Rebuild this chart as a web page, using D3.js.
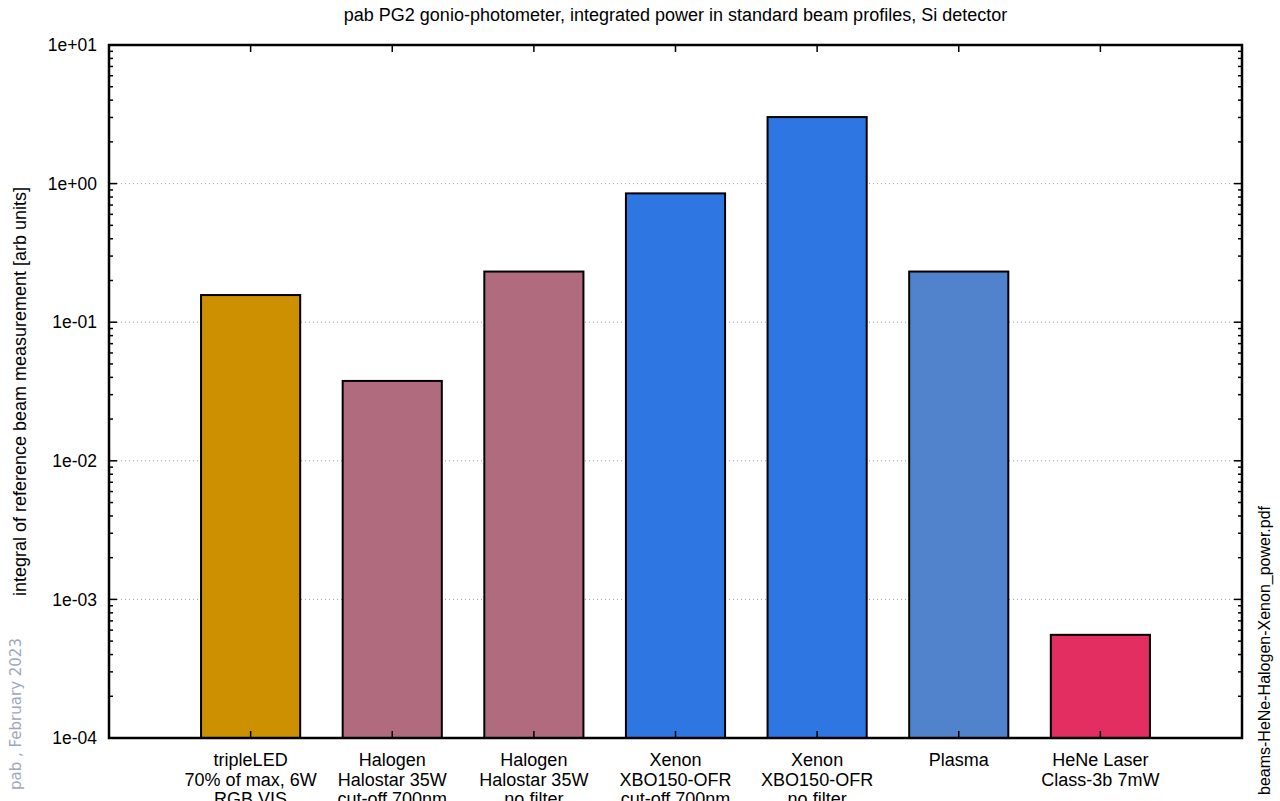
<!DOCTYPE html>
<html>
<head>
<meta charset="utf-8">
<script src="https://cdn.jsdelivr.net/npm/d3@7"></script>
<style>
  html, body { margin: 0; padding: 0; background: #fff; }
  svg { display: block; font-family: "Liberation Sans", Arial, sans-serif; }
</style>
</head>
<body>
<svg id="chart" width="1280" height="801"></svg>
<script>
// Beam sources (multi-line labels) and their integrated power
const categories = [
  ["tripleLED", "70% of max, 6W", "RGB VIS"],
  ["Halogen", "Halostar 35W", "cut-off 700nm"],
  ["Halogen", "Halostar 35W", "no filter"],
  ["Xenon", "XBO150-OFR", "cut-off 700nm"],
  ["Xenon", "XBO150-OFR", "no filter"],
  ["Plasma"],
  ["HeNe Laser", "Class-3b 7mW"]
];
const power = [0.157, 0.0377, 0.232, 0.85, 3.02, 0.232, 5.55e-4];
const barColors = ["#cc9000", "#b06b7f", "#b06b7f", "#2e77e3", "#2e77e3", "#5083cb", "#e32e62"];
const yTickValues = [1e-4, 1e-3, 1e-2, 1e-1, 1e0, 1e1];
const yTickLabels = ["1e-04", "1e-03", "1e-02", "1e-01", "1e+00", "1e+01"];

const titleText = "pab PG2 gonio-photometer, integrated power in standard beam profiles, Si detector";
const yLabelText = "integral of reference beam measurement [arb units]";
const stampText = "pab , February 2023";
const fileText = "beams-HeNe-Halogen-Xenon_power.pdf";

const svg = d3.select("#chart");
const L = 109, R = 1242, T = 45, B = 738;

const x = d3.scaleLinear().domain([0, categories.length + 1]).range([L, R]);
const y = d3.scaleLog().domain([1e-4, 1e1]).range([B, T]);
const barW = x(0.7) - x(0);

// dotted grid at each decade
svg.append("g").selectAll("line")
  .data(yTickValues.slice(1, -1))
  .join("line")
  .attr("x1", L).attr("x2", R)
  .attr("y1", d => y(d)).attr("y2", d => y(d))
  .attr("stroke", "#a0a0a0").attr("stroke-width", 1)
  .attr("stroke-dasharray", "1,3");

// bars
svg.append("g").selectAll("rect")
  .data(power)
  .join("rect")
  .attr("x", (d, i) => x(i + 1) - barW / 2)
  .attr("width", barW)
  .attr("y", d => y(d))
  .attr("height", d => B - y(d))
  .attr("fill", (d, i) => barColors[i])
  .attr("stroke", "#000").attr("stroke-width", 2);

// minor log ticks (2..9 in each decade)
const minor = [];
for (let e = -4; e < 1; e++) for (let m = 2; m <= 9; m++) minor.push(m * Math.pow(10, e));

const ticks = svg.append("g").attr("stroke", "#000").attr("stroke-width", 1.5);
ticks.selectAll(".mnl").data(minor).join("line")
  .attr("x1", L).attr("x2", L + 4).attr("y1", d => y(d)).attr("y2", d => y(d));
ticks.selectAll(".mnr").data(minor).join("line")
  .attr("x1", R).attr("x2", R - 4).attr("y1", d => y(d)).attr("y2", d => y(d));
ticks.selectAll(".mjl").data(yTickValues).join("line")
  .attr("x1", L).attr("x2", L + 8).attr("y1", d => y(d)).attr("y2", d => y(d));
ticks.selectAll(".mjr").data(yTickValues).join("line")
  .attr("x1", R).attr("x2", R - 8).attr("y1", d => y(d)).attr("y2", d => y(d));
ticks.selectAll(".xt").data(d3.range(1, categories.length + 1)).join("line")
  .attr("x1", d => x(d)).attr("x2", d => x(d)).attr("y1", T).attr("y2", T + 7);
ticks.selectAll(".xb").data(d3.range(1, categories.length + 1)).join("line")
  .attr("x1", d => x(d)).attr("x2", d => x(d)).attr("y1", B).attr("y2", B - 7);

// frame
svg.append("rect")
  .attr("x", L).attr("y", T).attr("width", R - L).attr("height", B - T)
  .attr("fill", "none").attr("stroke", "#000").attr("stroke-width", 2.5);

// y tick labels
svg.append("g").selectAll("text")
  .data(yTickValues)
  .join("text")
  .attr("x", 97).attr("y", d => y(d)).attr("dy", "0.35em")
  .attr("text-anchor", "end").attr("font-size", 17.5).attr("fill", "#000")
  .text((d, i) => yTickLabels[i]);

// category labels
const catG = svg.append("g").attr("font-size", 18).attr("fill", "#000").attr("text-anchor", "middle");
categories.forEach((lines, i) => {
  const t = catG.append("text").attr("x", x(i + 1)).attr("y", 766);
  lines.forEach((ln, k) => t.append("tspan").attr("x", x(i + 1)).attr("dy", k === 0 ? 0 : 19.5).text(ln));
});

// title
svg.append("text")
  .attr("x", (L + R) / 2).attr("y", 21)
  .attr("text-anchor", "middle").attr("font-size", 18).attr("fill", "#000")
  .text(titleText);

// y axis label
svg.append("text")
  .attr("transform", `translate(26,${(T + B) / 2}) rotate(-90)`)
  .attr("text-anchor", "middle").attr("font-size", 18).attr("fill", "#000")
  .text(yLabelText);

// date stamp
svg.append("text")
  .attr("transform", "translate(21,790) rotate(-90)")
  .attr("text-anchor", "start").attr("font-size", 15).attr("fill", "#a0a8bb")
  .attr("font-family", "'DejaVu Sans', sans-serif")
  .text(stampText);

// file name
svg.append("text")
  .attr("transform", "translate(1270,795) rotate(-90)")
  .attr("text-anchor", "start").attr("font-size", 16).attr("fill", "#000")
  .text(fileText);
</script>
</body>
</html>
